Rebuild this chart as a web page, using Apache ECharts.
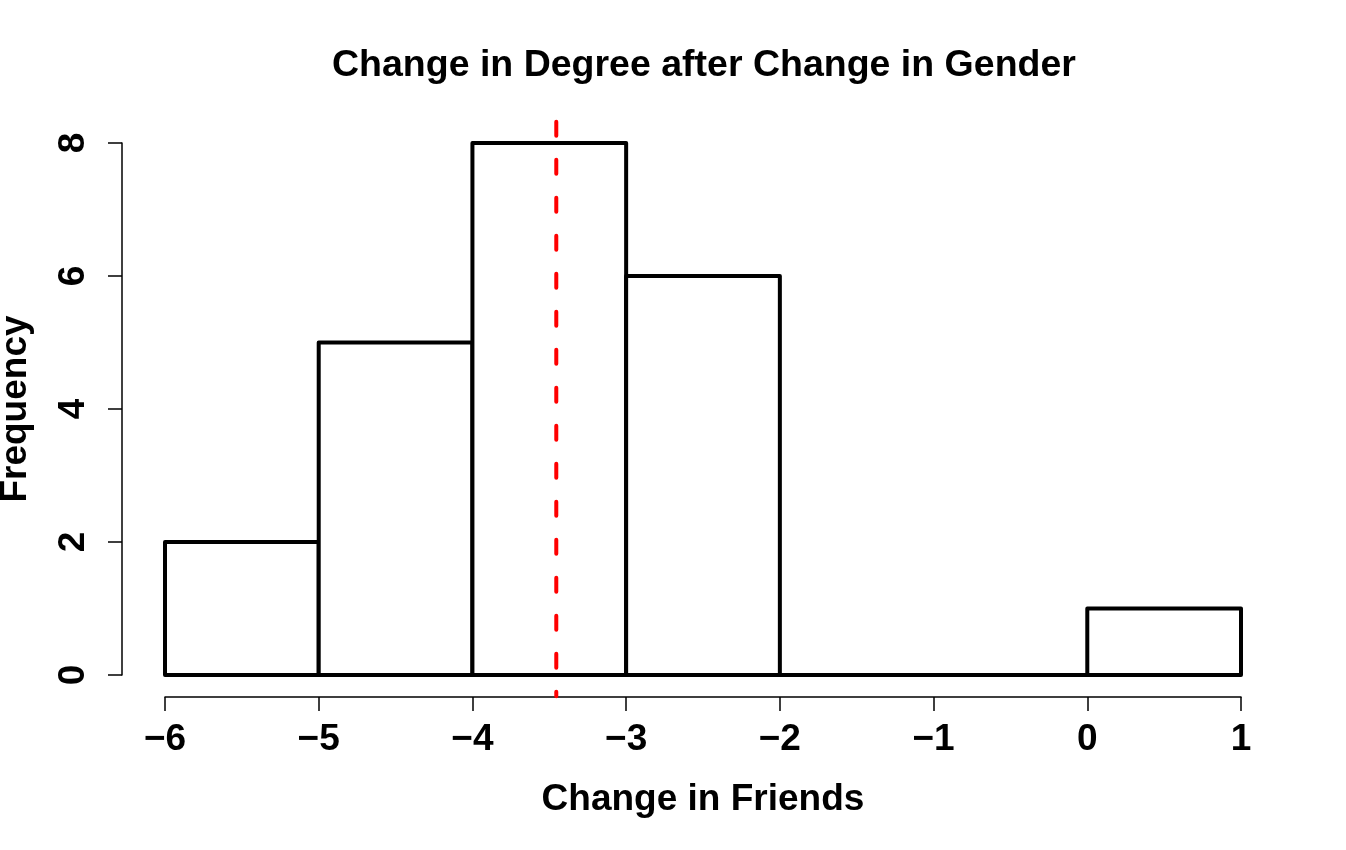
<!DOCTYPE html>
<html>
<head>
<meta charset="utf-8">
<script src="https://cdn.jsdelivr.net/npm/echarts@6/dist/echarts.min.js"></script>
<style>
html,body{margin:0;padding:0;background:#fff;}
#chart{width:1346px;height:850px;}
</style>
</head>
<body>
<div id="chart"></div>
<script>
// Histogram bins (left edge, right edge) and counts
var binStarts = [-6, -5, -4, -3, -2, -1, 0];
var binEnds   = [-5, -4, -3, -2, -1, 0, 1];
var counts    = [2, 5, 8, 6, 0, 0, 1];
// Mean of the change (red dashed line)
var meanValue = -3.4545;
// Vertical extent of the plot region (R extends the range by 4%)
var meanLineSpan = [8.32, -0.32];
var xTicks = [-6, -5, -4, -3, -2, -1, 0, 1];
var yTicks = [0, 2, 4, 6, 8];

var FONT = 'Liberation Sans, Arial, Helvetica, sans-serif';

var histData = binStarts.map(function (s, i) { return [s, binEnds[i], counts[i]]; });
var meanData = meanLineSpan.map(function (y) { return [meanValue, y]; });

var chart = echarts.init(document.getElementById('chart'), null, {renderer: 'canvas'});
chart.setOption({
  animation: false,
  backgroundColor: '#ffffff',
  title: {
    text: 'Change in Degree after Change in Gender',
    left: 327,
    top: 42,
    textStyle: {fontFamily: FONT, fontWeight: 'bold', fontSize: 37.5, color: '#000'}
  },
  grid: {left: 165, right: 105, top: 143, bottom: 175, containLabel: false, outerBoundsMode: 'none'},
  xAxis: {
    type: 'value',
    min: xTicks[0],
    max: xTicks[xTicks.length - 1],
    interval: 1,
    offset: 22,
    splitLine: {show: false},
    axisLine: {show: true, onZero: false, lineStyle: {color: '#000', width: 1.5}},
    axisTick: {show: true, length: 14, lineStyle: {color: '#000', width: 1.5}},
    axisLabel: {
      margin: 24,
      fontFamily: FONT, fontWeight: 'bold', fontSize: 37, color: '#000',
      formatter: function (v) { return String(v).replace('-', '\u2212'); }
    },
    name: 'Change in Friends',
    nameLocation: 'middle',
    nameGap: 84,
    nameTextStyle: {fontFamily: FONT, fontWeight: 'bold', fontSize: 37, color: '#000'}
  },
  yAxis: {
    type: 'value',
    min: yTicks[0],
    max: yTicks[yTicks.length - 1],
    interval: 2,
    offset: 43,
    splitLine: {show: false},
    axisLine: {show: true, onZero: false, lineStyle: {color: '#000', width: 1.5}},
    axisTick: {show: true, length: 14, lineStyle: {color: '#000', width: 1.5}},
    axisLabel: {
      rotate: 90,
      margin: 30,
      fontFamily: FONT, fontWeight: 'bold', fontSize: 37, color: '#000'
    },
    name: 'Frequency',
    nameLocation: 'middle',
    nameGap: 88,
    nameRotate: 90,
    nameTextStyle: {fontFamily: FONT, fontWeight: 'bold', fontSize: 37, color: '#000'}
  },
  series: [
    {
      type: 'custom',
      clip: false,
      data: histData,
      encode: {x: [0, 1], y: 2},
      renderItem: function (params, api) {
        var p0 = api.coord([api.value(0), 0]);
        var p1 = api.coord([api.value(1), api.value(2)]);
        return {
          type: 'rect',
          shape: {x: p0[0], y: p1[1], width: p1[0] - p0[0], height: p0[1] - p1[1]},
          style: {fill: '#ffffff', stroke: '#000000', lineWidth: 4, lineJoin: 'round'}
        };
      }
    },
    {
      type: 'line',
      clip: false,
      data: meanData,
      symbol: 'none',
      lineStyle: {color: '#ff0000', width: 4, type: [14, 24], cap: 'round'},
      z: 5
    }
  ]
});
</script>
</body>
</html>
